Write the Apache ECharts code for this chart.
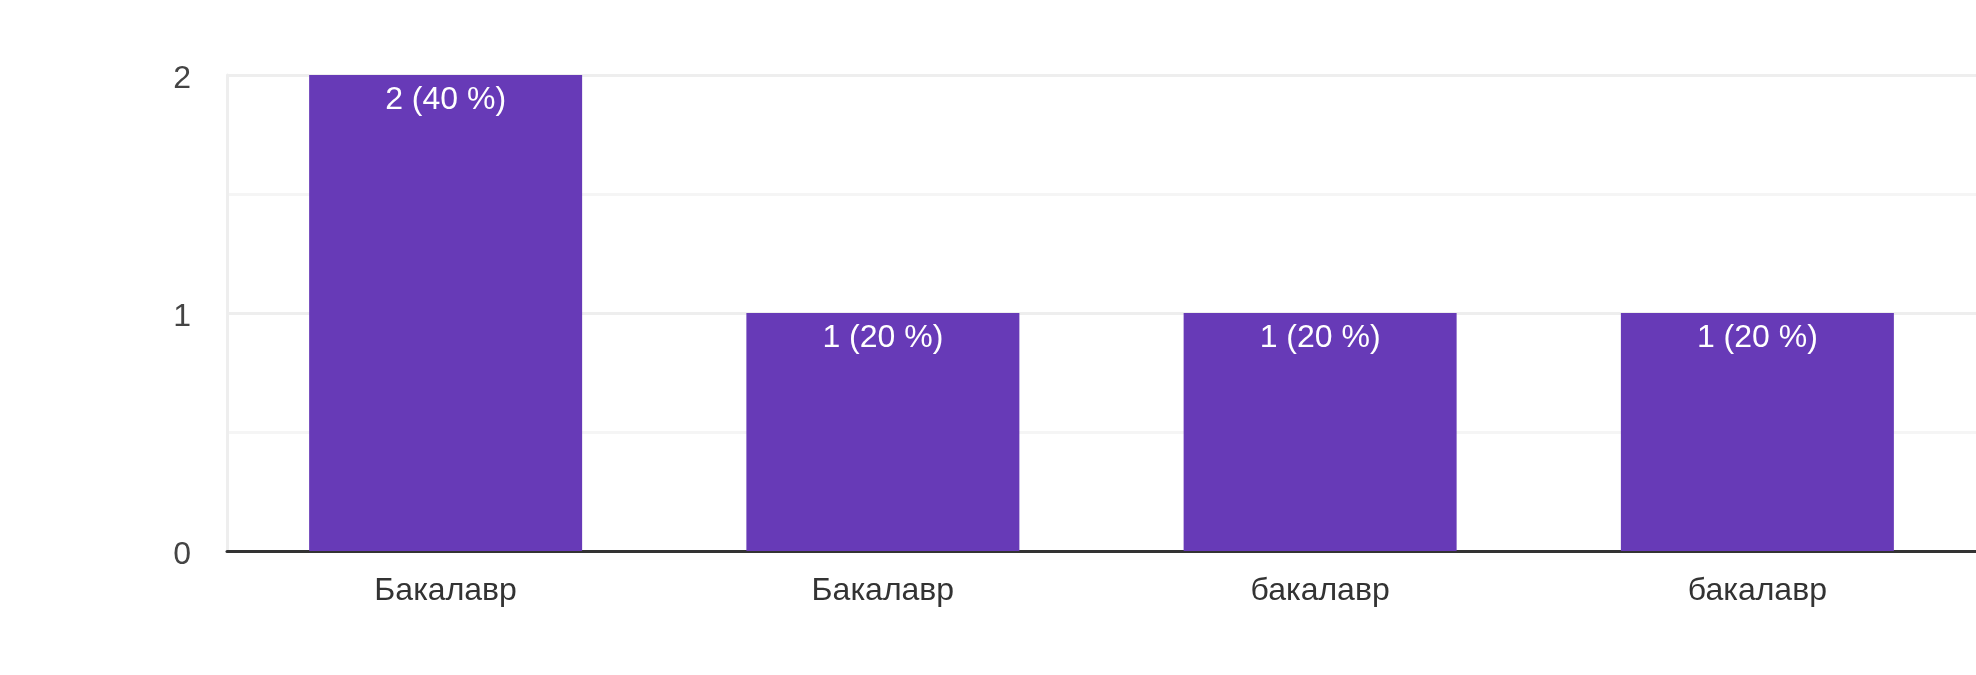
<!DOCTYPE html>
<html>
<head>
<meta charset="utf-8">
<script src="https://cdn.jsdelivr.net/npm/echarts@6/dist/echarts.min.js"></script>
<style>
  html, body { margin: 0; padding: 0; background: #fff; }
  #chart { width: 1976px; height: 675px; }
</style>
</head>
<body>
<div id="chart"></div>
<script>
const categories = ['Бакалавр', 'Бакалавр', 'бакалавр', 'бакалавр']
const counts = [2, 1, 1, 1]
const yTicks = [0, 1, 2]

const total = counts.reduce((a, b) => a + b, 0)
const font = '"Liberation Sans", Arial, sans-serif'

const chart = echarts.init(document.getElementById('chart'))

const option = {
  animation: false,
  grid: {
    left: 227,
    width: 1756,
    top: 75,
    bottom: 124,
    containLabel: false,
  },
  xAxis: {
    type: 'category',
    data: categories,
    axisTick: { show: false },
    axisLine: {
      lineStyle: { color: '#333333', width: 3 },
    },
    axisLabel: {
      color: '#333333',
      fontSize: 32,
      fontFamily: font,
      margin: 24,
    },
  },
  yAxis: {
    type: 'value',
    min: yTicks[0],
    max: yTicks[yTicks.length - 1],
    interval: 1,
    axisLine: {
      show: true,
      lineStyle: { color: '#eeeeee', width: 3 },
    },
    axisTick: { show: false },
    axisLabel: {
      color: '#444444',
      fontSize: 32,
      fontFamily: font,
      margin: 36,
      verticalAlign: 'top',
      lineHeight: 8,
    },
    splitLine: {
      lineStyle: { color: '#eeeeee', width: 3 },
    },
    minorTick: { show: false, splitNumber: 2 },
    minorSplitLine: {
      show: true,
      lineStyle: { color: '#f5f5f5', width: 3 },
    },
  },
  series: [
    {
      type: 'bar',
      data: counts,
      barWidth: 273,
      itemStyle: { color: '#673ab7' },
      label: {
        show: true,
        position: 'insideTop',
        distance: 9,
        color: '#ffffff',
        fontSize: 32,
        fontFamily: font,
        formatter: (p) => p.value + ' (' + Math.round((p.value / total) * 100) + ' %)',
      },
    },
  ],
}

chart.setOption(option)
</script>
</body>
</html>
